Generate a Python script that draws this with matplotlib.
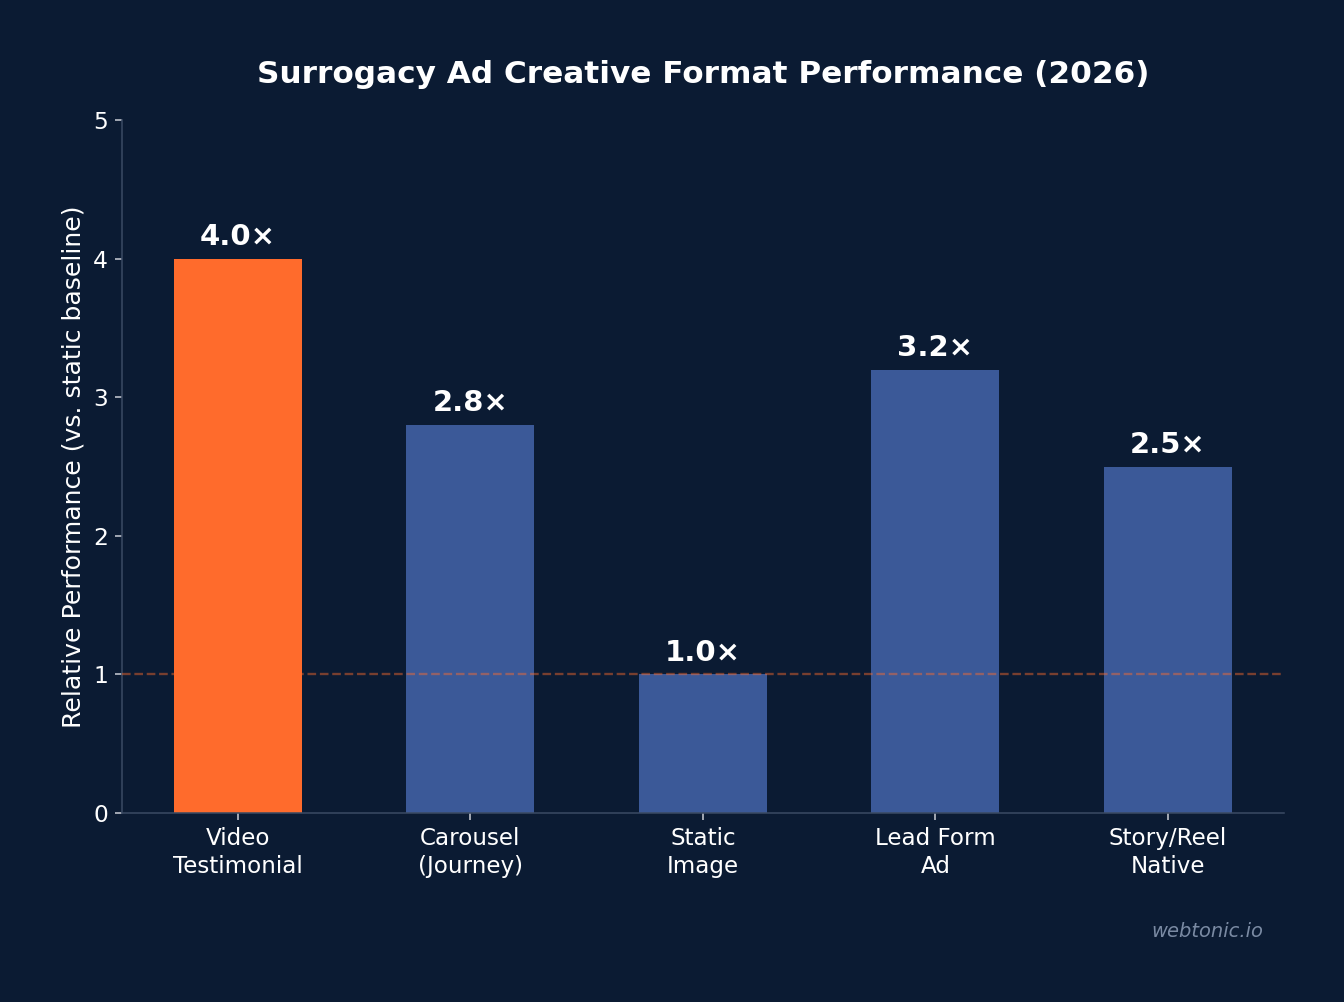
import matplotlib
matplotlib.use("Agg")
import matplotlib.pyplot as plt
import numpy as np

categories = ["Video\nTestimonial", "Carousel\n(Journey)", "Static\nImage", "Lead Form\nAd", "Story/Reel\nNative"]
values = [4.0, 2.8, 1.0, 3.2, 2.5]
labels = ["4.0×", "2.8×", "1.0×", "3.2×", "2.5×"]
baseline = 1.0

bg = "#0b1b33"
colors = ["#ff6b2c"] + ["#3b5998"] * 4

fig = plt.figure(figsize=(9.6, 7.1575), dpi=140, facecolor=bg)
ax = fig.add_axes([0.0905, 0.1886, 0.865, 0.6914])
ax.set_facecolor(bg)

x = np.arange(len(values))
ax.bar(x, values, width=0.55, color=colors, zorder=2)
ax.axhline(baseline, color="#ff6b2c", alpha=0.45, linestyle="--", linewidth=1.2, zorder=3)

for xi, v, lab in zip(x, values, labels):
    ax.annotate(lab, (xi, v), xytext=(0, 4), textcoords="offset points",
                ha="center", va="bottom", color="white", fontsize=15, fontweight="bold")

ax.set_xlim(-0.5, 4.5)
ax.set_ylim(0, 5)
ax.set_xticks(x)
ax.set_xticklabels(categories, fontsize=11.8, color="white", linespacing=1.25)
ax.set_yticks(range(6))
ax.tick_params(axis="y", labelsize=12, colors="white")
ax.tick_params(axis="x", colors="white", pad=3.8)
ax.tick_params(axis="both", color="#c8ccd4")

for s in ["top", "right"]:
    ax.spines[s].set_visible(False)
for s in ["left", "bottom"]:
    ax.spines[s].set_color("#3a4a63")

ax.set_ylabel("Relative Performance (vs. static baseline)", fontsize=12.9, color="white")
ax.set_title("Surrogacy Ad Creative Format Performance (2026)", fontsize=16, fontweight="bold",
             color="white", pad=19)

fig.text(0.898, 0.070, "webtonic.io", fontsize=10, style="italic", color="#7a8aa3",
         ha="center", va="center")

fig.savefig("out.png", facecolor=bg)
